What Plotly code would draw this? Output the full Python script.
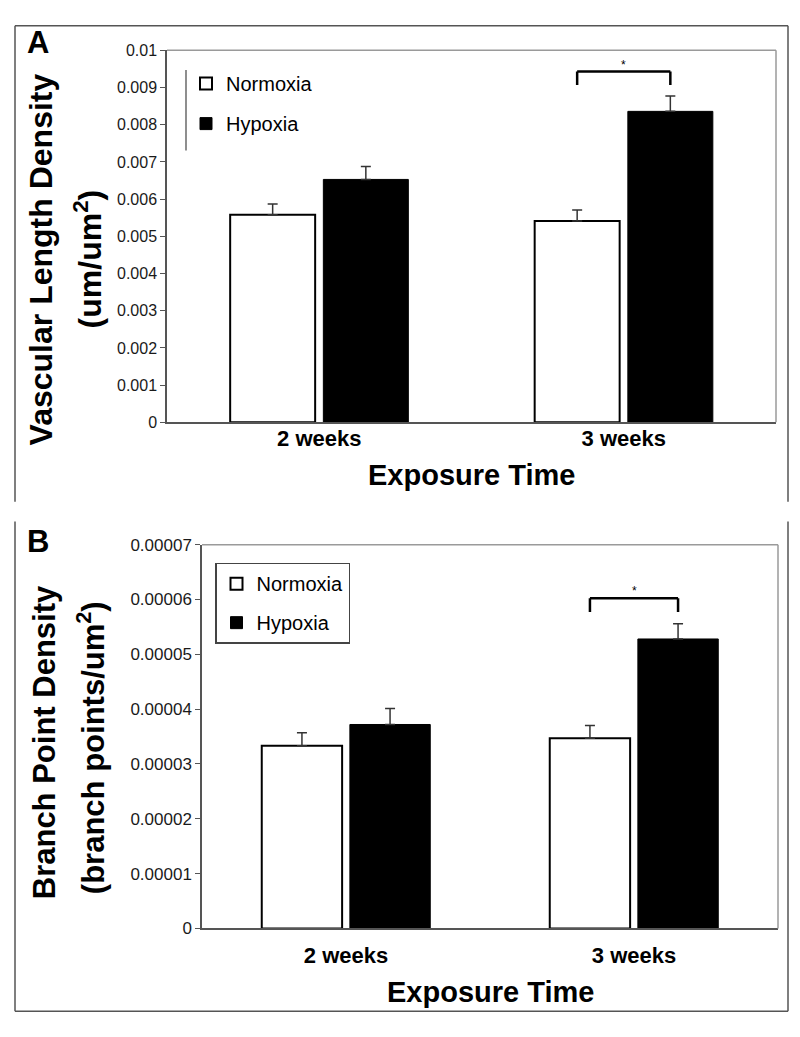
import plotly.graph_objects as go

# ---------------- data ----------------
categories = ["2 weeks", "3 weeks"]
series_names = ["Normoxia", "Hypoxia"]

# Panel A: vascular length density (um/um^2)
a_normoxia = [0.00558, 0.00541]
a_normoxia_err = [0.00029, 0.00030]
a_hypoxia = [0.00653, 0.00836]
a_hypoxia_err = [0.00035, 0.00041]
a_ticks = [0, 0.001, 0.002, 0.003, 0.004, 0.005, 0.006, 0.007, 0.008, 0.009, 0.01]
a_ticklabels = ["0", "0.001", "0.002", "0.003", "0.004", "0.005", "0.006",
                "0.007", "0.008", "0.009", "0.01"]

# Panel B: branch point density (branch points/um^2)
b_normoxia = [0.0000333, 0.0000347]
b_normoxia_err = [0.0000024, 0.0000023]
b_hypoxia = [0.0000372, 0.0000528]
b_hypoxia_err = [0.0000029, 0.0000028]
b_ticks = [0, 0.00001, 0.00002, 0.00003, 0.00004, 0.00005, 0.00006, 0.00007]
b_ticklabels = ["0", "0.00001", "0.00002", "0.00003", "0.00004", "0.00005",
                "0.00006", "0.00007"]

# ---------------- helpers ----------------
PAGE_W, PAGE_H = 800, 1037
M = 8  # default HTML body margin
W, H = PAGE_W - 2 * M, PAGE_H - 2 * M
FONT = "Liberation Sans, Arial, sans-serif"


def px(x):
    return (x - M) / W


def py(y):
    return 1 - (y - M) / H


BARGAP = 0.388
BARGROUPGAP = 0.088
slot = (1 - BARGAP) / 2
offset = slot / 2  # bar centre offset from category centre (category units)

fig = go.Figure()

panels = [
    dict(xa="x", ya="y", legend="legend", n=a_normoxia, ne=a_normoxia_err,
         h=a_hypoxia, he=a_hypoxia_err),
    dict(xa="x2", ya="y2", legend="legend2", n=b_normoxia, ne=b_normoxia_err,
         h=b_hypoxia, he=b_hypoxia_err),
]

for i, p in enumerate(panels):
    fig.add_trace(go.Bar(
        x=categories, y=p["n"], name=series_names[0],
        marker=dict(color="white", line=dict(color="black", width=2)),
        error_y=dict(type="data", array=p["ne"], arrayminus=[0, 0], symmetric=False,
                     color="#333333", thickness=1.5, width=5),
        xaxis=p["xa"], yaxis=p["ya"], legend=p["legend"],
        legendgroup=f"n{i}",
    ))
    fig.add_trace(go.Bar(
        x=categories, y=p["h"], name=series_names[1],
        marker=dict(color="black", line=dict(color="black", width=1)),
        error_y=dict(type="data", array=p["he"], arrayminus=[0, 0], symmetric=False,
                     color="#333333", thickness=1.5, width=5),
        xaxis=p["xa"], yaxis=p["ya"], legend=p["legend"],
        legendgroup=f"h{i}",
    ))

axis_common = dict(showgrid=False, zeroline=False, showline=True,
                   linecolor="#555555", linewidth=1.5)

fig.update_layout(
    width=W, height=H,
    margin=dict(l=0, r=0, t=0, b=0),
    paper_bgcolor="white", plot_bgcolor="white",
    barmode="group", bargap=BARGAP, bargroupgap=BARGROUPGAP,
    font=dict(family=FONT, color="black"),
    xaxis=dict(domain=[px(167), px(776)], anchor="y", type="category",
               categoryorder="array", categoryarray=categories,
               ticks="", ticklabelstandoff=-4,
               tickfont=dict(size=22, family=FONT, weight="bold"),
               **axis_common),
    yaxis=dict(domain=[py(421), py(42)], anchor="x", range=[0, 0.01],
               tickvals=a_ticks, ticktext=a_ticklabels,
               ticks="outside", ticklen=5, tickcolor="#555555",
               tickfont=dict(size=16, family=FONT, color="#1a1a1a"),
               **axis_common),
    xaxis2=dict(domain=[px(202), px(778)], anchor="y2", type="category",
                categoryorder="array", categoryarray=categories,
                ticks="", ticklabelstandoff=6,
                tickfont=dict(size=22, family=FONT, weight="bold"),
                **axis_common),
    yaxis2=dict(domain=[py(936.7), py(545.7)], anchor="x2", range=[0, 0.00007],
                tickvals=b_ticks, ticktext=b_ticklabels,
                ticks="outside", ticklen=5, tickcolor="#555555",
                tickfont=dict(size=17, family=FONT, color="#1a1a1a"),
                **axis_common),
    legend=dict(x=px(186), y=py(56), xanchor="left", yanchor="top",
                font=dict(size=20, family=FONT), bgcolor="rgba(0,0,0,0)",
                borderwidth=0, tracegroupgap=11, traceorder="grouped"),
    legend2=dict(x=px(215), y=py(564), xanchor="left", yanchor="top",
                 font=dict(size=20, family=FONT), bgcolor="white",
                 bordercolor="#444444", borderwidth=1.5, tracegroupgap=10,
                 traceorder="grouped"),
    showlegend=True,
)

shapes = []
annotations = []

# plot-area top/right borders (lighter gray)
for xa in ["x", "x2"]:
    yref = "y domain" if xa == "x" else "y2 domain"
    shapes.append(dict(type="line", xref=f"{xa} domain", yref=yref,
                       x0=0, x1=1, y0=1, y1=1, line=dict(color="#9a9a9a", width=1.5)))
    shapes.append(dict(type="line", xref=f"{xa} domain", yref=yref,
                       x0=1, x1=1, y0=0, y1=1, line=dict(color="#9a9a9a", width=1.5)))

# legend A left rule
shapes.append(dict(type="line", xref="paper", yref="paper",
                   x0=px(186), x1=px(186), y0=py(62), y1=py(144),
                   line=dict(color="#444444", width=1.2)))

# outer panel frames
frame = dict(color="#555555", width=1.5)
shapes += [
    dict(type="line", xref="paper", yref="paper", x0=px(15), x1=px(788), y0=py(17), y1=py(17), line=frame),
    dict(type="line", xref="paper", yref="paper", x0=px(15), x1=px(15), y0=py(17), y1=py(502), line=frame),
    dict(type="line", xref="paper", yref="paper", x0=px(788), x1=px(788), y0=py(17), y1=py(502), line=frame),
    dict(type="line", xref="paper", yref="paper", x0=px(15), x1=px(788), y0=py(1021), y1=py(1021), line=frame),
    dict(type="line", xref="paper", yref="paper", x0=px(15), x1=px(15), y0=py(522), y1=py(1021), line=frame),
    dict(type="line", xref="paper", yref="paper", x0=px(788), x1=px(788), y0=py(522), y1=py(1021), line=frame),
]

# significance brackets over "3 weeks"
for xa, ya, n, ne, h, he, rng in [
    ("x", "y", a_normoxia, a_normoxia_err, a_hypoxia, a_hypoxia_err, 0.01),
    ("x2", "y2", b_normoxia, b_normoxia_err, b_hypoxia, b_hypoxia_err, 0.00007),
]:
    idx = 1
    top = max(n[idx] + ne[idx], h[idx] + he[idx])
    y_low = top + 0.03 * rng
    y_high = y_low + 0.036 * rng
    xl, xr = idx - offset, idx + offset
    bl = dict(color="black", width=2.5)
    shapes += [
        dict(type="line", xref=xa, yref=ya, x0=xl, x1=xl, y0=y_low, y1=y_high, line=bl),
        dict(type="line", xref=xa, yref=ya, x0=xl, x1=xr, y0=y_high, y1=y_high, line=bl),
        dict(type="line", xref=xa, yref=ya, x0=xr, x1=xr, y0=y_low, y1=y_high, line=bl),
    ]
    annotations.append(dict(xref=xa, yref=ya, x=idx, y=y_high, text="*",
                            showarrow=False, yanchor="bottom", yshift=-2,
                            font=dict(size=12, family=FONT, color="black")))

# y-axis titles (two lines each)
ta = dict(size=32, family=FONT, color="black", weight="bold")
tb = dict(size=31, family=FONT, color="black", weight="bold")
annotations += [
    dict(xref="paper", yref="paper", x=px(41), y=py(255), text="Vascular Length Density",
         textangle=-90, showarrow=False, xanchor="center", yanchor="middle", font=ta),
    dict(xref="paper", yref="paper", x=px(88), y=py(255), text="(um/um<sup>2</sup>)",
         textangle=-90, showarrow=False, xanchor="center", yanchor="middle", font=ta),
    dict(xref="paper", yref="paper", x=px(44), y=py(747), text="Branch Point Density",
         textangle=-90, showarrow=False, xanchor="center", yanchor="middle", font=tb),
    dict(xref="paper", yref="paper", x=px(91), y=py(753), text="(branch points/um<sup>2</sup>)",
         textangle=-90, showarrow=False, xanchor="center", yanchor="middle", font=tb),
]

# x-axis titles
xt_font = dict(size=29, family=FONT, color="black", weight="bold")
annotations += [
    dict(xref="x domain", yref="paper", x=0.5, y=py(475), text="Exposure Time",
         showarrow=False, xanchor="center", yanchor="middle", font=xt_font),
    dict(xref="x2 domain", yref="paper", x=0.5, y=py(1001), text="Exposure Time",
         showarrow=False, xanchor="center", yanchor="middle", font=xt_font),
]

# panel letters
pl_font = dict(size=31, family=FONT, color="black", weight="bold")
annotations += [
    dict(xref="paper", yref="paper", x=px(38), y=py(34), text="A", showarrow=False,
         xanchor="center", yanchor="middle", font=pl_font),
    dict(xref="paper", yref="paper", x=px(38), y=py(542), text="B", showarrow=False,
         xanchor="center", yanchor="middle", font=pl_font),
]

fig.update_layout(shapes=shapes, annotations=annotations)

fig.write_html("out.html")
